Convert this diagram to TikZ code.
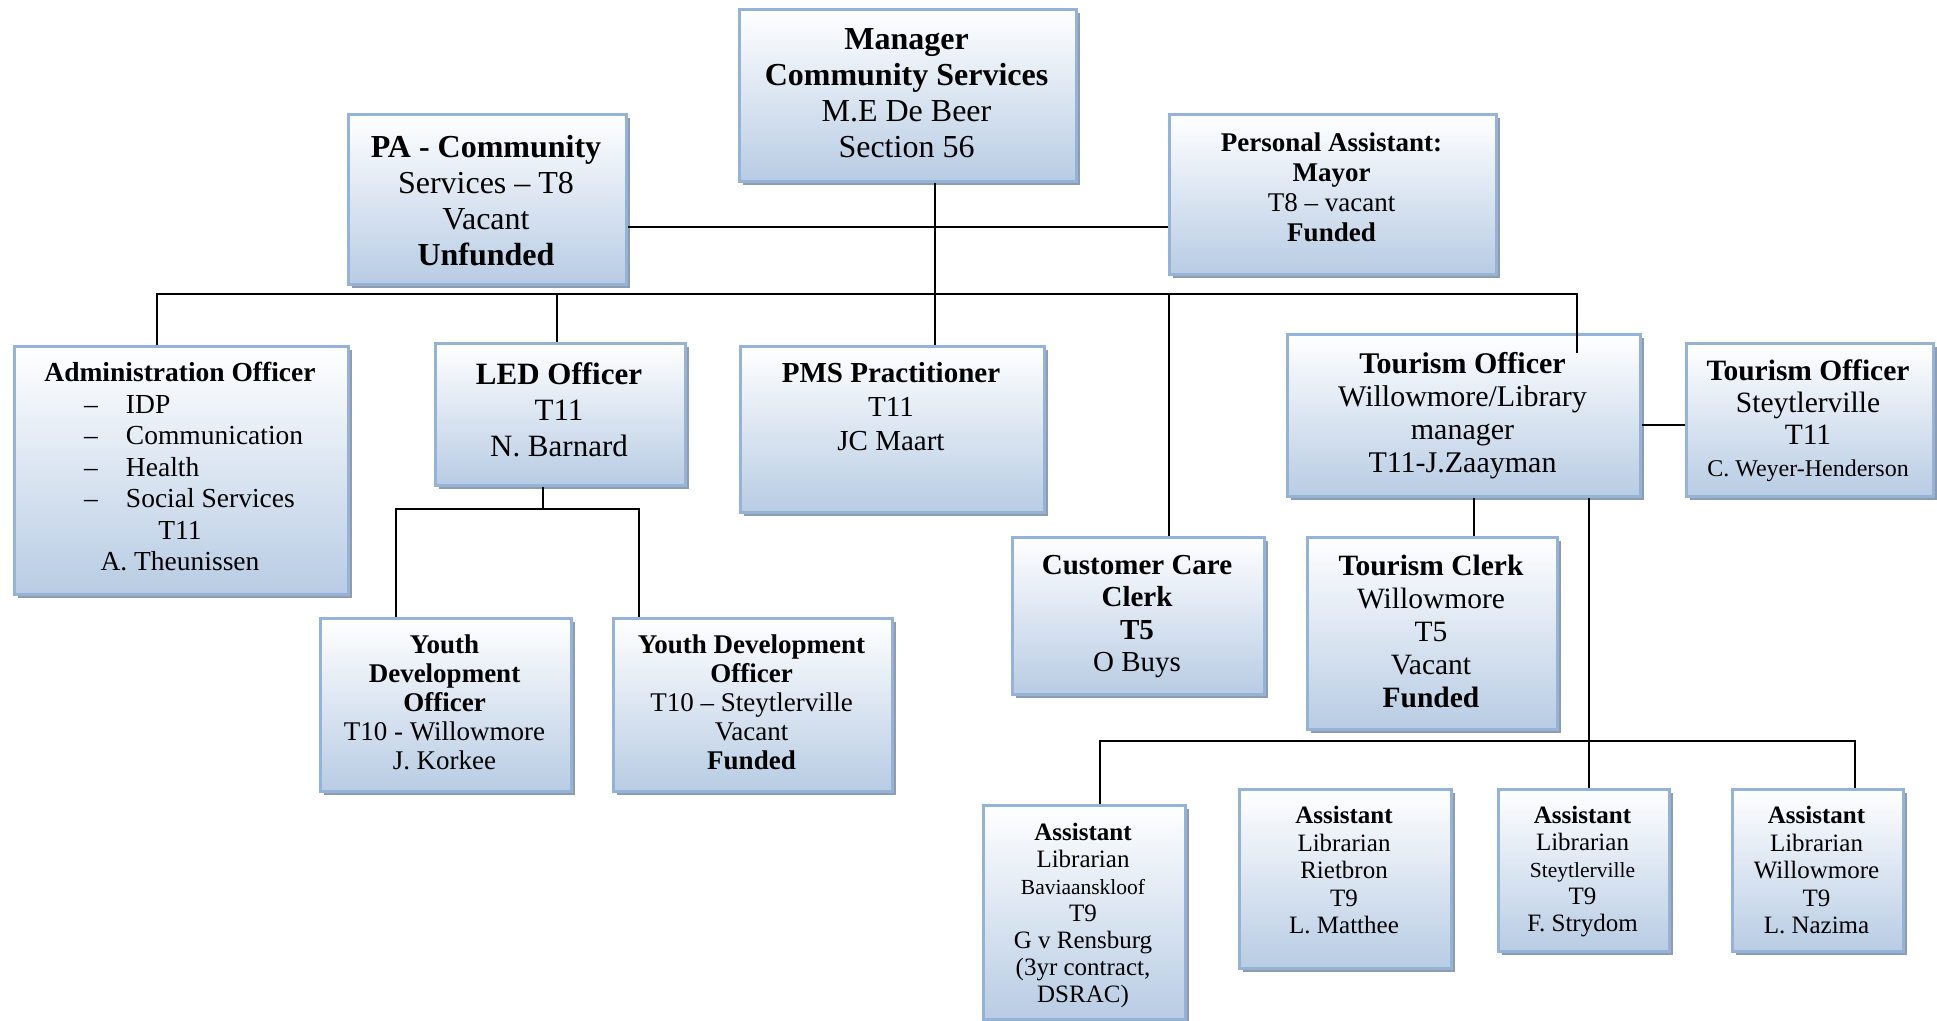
\documentclass[tikz,border=0pt]{standalone}
\usepackage{fontspec}
\setmainfont{Liberation Serif}
\usetikzlibrary{shadows}
\definecolor{boxline}{HTML}{95B3D7}
\definecolor{boxfill}{HTML}{B8CCE4}
\definecolor{boxshade}{HTML}{8E9CB0}
\newcommand\setfs[2]{\fontsize{#1}{#2}\selectfont}
\newcommand\dashitem[1]{\makebox[192pt][l]{\makebox[42pt][l]{–}#1}}
\begin{document}
\begin{tikzpicture}[x=1pt,y=-1pt,
  orgbox/.style={draw=boxline, line width=2.5pt, top color=white, bottom color=boxfill,
    inner sep=0pt, anchor=north west,
    drop shadow={shadow xshift=4pt, shadow yshift=-4pt, fill=boxshade, opacity=1}},
  boxtext/.style={align=center, inner sep=0pt, anchor=north, text=black},
  link/.style={line width=1.6pt, black}]
\useasboundingbox (0,0) rectangle (1937,1020);
\fill[white] (0,0) rectangle (1937,1020);

% boxes (top-left corner, size)
\node[orgbox, minimum width=337pt, minimum height=172pt] (mgr)     at (738,8)    {};
\node[orgbox, minimum width=278pt, minimum height=170pt] (paComm)  at (347,113)  {};
\node[orgbox, minimum width=327pt, minimum height=160pt] (paMayor) at (1168,113) {};
\node[orgbox, minimum width=334pt, minimum height=248pt] (admin)   at (13,345)   {};
\node[orgbox, minimum width=250pt, minimum height=142pt] (led)     at (434,342)  {};
\node[orgbox, minimum width=304pt, minimum height=166pt] (pms)     at (739,345)  {};
\node[orgbox, minimum width=353pt, minimum height=162pt] (tour)    at (1286,333) {};
\node[orgbox, minimum width=247pt, minimum height=153pt] (tourS)   at (1685,342) {};
\node[orgbox, minimum width=252pt, minimum height=157pt] (cust)    at (1011,536) {};
\node[orgbox, minimum width=250pt, minimum height=192pt] (clerk)   at (1306,536) {};
\node[orgbox, minimum width=251pt, minimum height=173pt] (ydo1)    at (319,617)  {};
\node[orgbox, minimum width=279pt, minimum height=173pt] (ydo2)    at (612,617)  {};
\node[orgbox, minimum width=202pt, minimum height=214pt] (asst1)   at (982,804)  {};
\node[orgbox, minimum width=212pt, minimum height=179pt] (asst2)   at (1238,788) {};
\node[orgbox, minimum width=171pt, minimum height=162pt] (asst3)   at (1497,788) {};
\node[orgbox, minimum width=171pt, minimum height=162pt] (asst4)   at (1731,788) {};

% box texts
\node[boxtext, font=\setfs{32}{36}] (mgr-t) at (906.5,28)
  {\textbf{Manager}\\ \textbf{Community Services}\\ M.E De Beer\\ Section 56};
\node[boxtext, font=\setfs{32}{36}] (paComm-t) at (486,135)
  {\textbf{PA - Community}\\ Services – T8\\ Vacant\\ \textbf{Unfunded}};
\node[boxtext, font=\setfs{27}{30}] (paMayor-t) at (1331.5,133)
  {\textbf{Personal Assistant:}\\ \textbf{Mayor}\\ T8 – vacant\\ \textbf{Funded}};
\node[boxtext, font=\setfs{27.5}{31.5}] (admin-t) at (180,362)
  {\textbf{Administration Officer}\\ \dashitem{IDP}\\ \dashitem{Communication}\\
   \dashitem{Health}\\ \dashitem{Social Services}\\ T11\\ A. Theunissen};
\node[boxtext, font=\setfs{31}{36}] (led-t) at (559,362)
  {\textbf{LED Officer}\\ T11\\ N. Barnard};
\node[boxtext, font=\setfs{29}{34}] (pms-t) at (891,362)
  {\textbf{PMS Practitioner}\\ T11\\ JC Maart};
\node[boxtext, font=\setfs{30}{33}] (tour-t) at (1462.5,352)
  {\textbf{Tourism Officer}\\ Willowmore/Library\\ manager\\ T11-J.Zaayman};
\node[boxtext, font=\setfs{29.5}{32}] (tourS-t) at (1808,360)
  {\textbf{Tourism Officer}\\ Steytlerville\\ T11\\ {\setfs{24}{32}C. Weyer-Henderson}};
\node[boxtext, font=\setfs{29}{32.5}] (cust-t) at (1137,555)
  {\textbf{Customer Care}\\ \textbf{Clerk}\\ \textbf{T5}\\ O Buys};
\node[boxtext, font=\setfs{29.5}{33}] (clerk-t) at (1431,555)
  {\textbf{Tourism Clerk}\\ Willowmore\\ T5\\ Vacant\\ \textbf{Funded}};
\node[boxtext, font=\setfs{27}{29}] (ydo1-t) at (444.5,635)
  {\textbf{Youth}\\ \textbf{Development}\\ \textbf{Officer}\\ T10 - Willowmore\\ J. Korkee};
\node[boxtext, font=\setfs{27}{29}] (ydo2-t) at (751.5,635)
  {\textbf{Youth Development}\\ \textbf{Officer}\\ T10 – Steytlerville\\ Vacant\\ \textbf{Funded}};
\node[boxtext, font=\setfs{25}{27}] (asst1-t) at (1083,823)
  {\textbf{Assistant}\\ Librarian\\ {\setfs{21.5}{27}Baviaanskloof}\\ T9\\ G v Rensburg\\ (3yr contract,\\ DSRAC)};
\node[boxtext, font=\setfs{25}{27.5}] (asst2-t) at (1344,806)
  {\textbf{Assistant}\\ Librarian\\ Rietbron\\ T9\\ L. Matthee};
\node[boxtext, font=\setfs{25}{27}] (asst3-t) at (1582.5,806)
  {\textbf{Assistant}\\ Librarian\\ {\setfs{21.5}{27}Steytlerville}\\ T9\\ F. Strydom};
\node[boxtext, font=\setfs{25}{27.5}] (asst4-t) at (1816.5,806)
  {\textbf{Assistant}\\ Librarian\\ Willowmore\\ T9\\ L. Nazima};

% connector routing points
\coordinate (mgrX)   at (935,0);
\coordinate (paY)    at (0,227);
\coordinate (busL)   at (157,294);
\coordinate (busR)   at (1577,294);
\coordinate (tourIn) at (1577,353);
\coordinate (ledX)   at (557,0);
\coordinate (custX)  at (1169,0);
\coordinate (tsY)    at (0,425);
\coordinate (ydoJ)   at (543,509);
\coordinate (ydoL)   at (396,509);
\coordinate (ydoR)   at (639,509);
\coordinate (clerkX) at (1474,0);
\coordinate (libX)   at (1589,0);
\coordinate (abL)    at (1100,741);
\coordinate (abR)    at (1855,741);

% connectors
\draw[link] (mgr.south -| mgrX) -- (pms.north -| mgrX);
\draw[link] (paComm.east |- paY) -- (paMayor.west |- paY);
\draw[link] (admin.north -| busL) -- (busL) -- (busR) -- (tourIn);
\draw[link] (busL -| ledX) -- (led.north -| ledX);
\draw[link] (busL -| custX) -- (cust.north -| custX);
\draw[link] (tour.east |- tsY) -- (tourS.west |- tsY);
\draw[link] (led.south -| ydoJ) -- (ydoJ);
\draw[link] (ydo1.north -| ydoL) -- (ydoL) -- (ydoR) -- (ydo2.north -| ydoR);
\draw[link] (tour.south -| clerkX) -- (clerk.north -| clerkX);
\draw[link] (tour.south -| libX) -- (asst3.north -| libX);
\draw[link] (asst1.north -| abL) -- (abL) -- (abR) -- (asst4.north -| abR);
\end{tikzpicture}
\end{document}
